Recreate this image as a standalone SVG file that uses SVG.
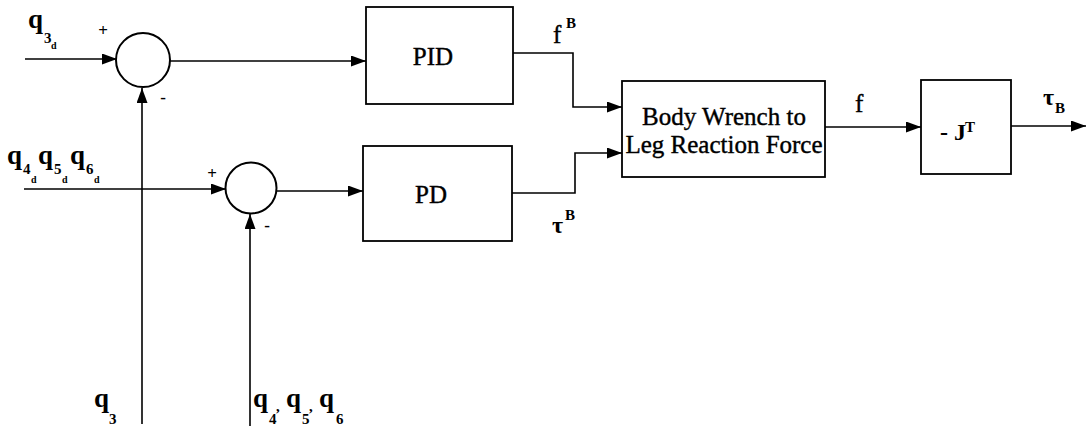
<svg xmlns="http://www.w3.org/2000/svg" width="1087" height="426" viewBox="0 0 1087 426">
<defs>
<marker id="arr" markerUnits="userSpaceOnUse" markerWidth="16" markerHeight="12" refX="15" refY="5.5" orient="auto">
<path d="M0,0 L15,5.5 L0,11 Z" fill="#000"/>
</marker>
<style>
.ln{fill:none;stroke:#000;stroke-width:1.6}
.box{fill:#fff;stroke:#000;stroke-width:1.8}
.sum{fill:#fff;stroke:#000;stroke-width:2}
.t{font-family:"Liberation Serif","Times New Roman",serif;font-size:25px;fill:#000;stroke:#000;stroke-width:0.4}
.b{font-family:"Liberation Serif","Times New Roman",serif;font-weight:bold;fill:#000}
.q{font-size:27px}
.s{font-size:15px}
.d{font-size:10px}
.sg{font-size:17px}
</style>
</defs>
<rect width="1087" height="426" fill="#fff"/>
<g id="connectors">
<path class="ln" d="M25 59 H117" marker-end="url(#arr)"/>
<path class="ln" d="M170 61 H366" marker-end="url(#arr)"/>
<path class="ln" d="M142 424 V88" marker-end="url(#arr)"/>
<path class="ln" d="M24 189 H226" marker-end="url(#arr)"/>
<path class="ln" d="M277 191 H363" marker-end="url(#arr)"/>
<path class="ln" d="M250 426 V214" marker-end="url(#arr)"/>
<path class="ln" d="M513 53 H573 V107 H622" marker-end="url(#arr)"/>
<path class="ln" d="M512 193 H575 V153 H622" marker-end="url(#arr)"/>
<path class="ln" d="M825 127 H921" marker-end="url(#arr)"/>
<path class="ln" d="M1011 126 H1086" marker-end="url(#arr)"/>
</g>
<g id="sum1">
<circle class="sum" cx="143" cy="60" r="27"/>
<text class="b sg" x="103" y="36" text-anchor="middle">+</text>
<text class="b sg" x="163" y="103" text-anchor="middle">-</text>
</g>
<g id="sum2">
<circle class="sum" cx="251" cy="188" r="25.5"/>
<text class="b sg" x="212" y="179" text-anchor="middle">+</text>
<text class="b sg" x="267" y="231" text-anchor="middle">-</text>
</g>
<g id="pid">
<rect class="box" x="366" y="7" width="147" height="97"/>
<text class="t" x="433" y="65" text-anchor="middle">PID</text>
</g>
<g id="pd">
<rect class="box" x="363" y="146" width="149" height="95"/>
<text class="t" x="431" y="203" text-anchor="middle">PD</text>
</g>
<g id="body">
<rect class="box" x="622" y="81" width="203" height="96"/>
<text class="t" x="724" y="125" text-anchor="middle">Body Wrench to</text>
<text class="t" x="724" y="153" text-anchor="middle">Leg Reaction Force</text>
</g>
<g id="jt">
<rect class="box" x="921" y="80" width="90" height="94"/>
<text class="b" x="940" y="140" font-size="24">- J</text>
<text class="b s" x="965" y="132">T</text>
</g>
<g id="labels">
<text class="b q" x="28" y="28">q</text>
<text class="b s" x="44" y="43">3</text>
<text class="b d" x="51" y="49">d</text>
<text class="b q" x="7" y="164">q</text>
<text class="b s" x="23" y="174">4</text>
<text class="b d" x="31" y="183">d</text>
<text class="b q" x="38" y="164">q</text>
<text class="b s" x="54" y="174">5</text>
<text class="b d" x="62" y="183">d</text>
<text class="b q" x="70" y="164">q</text>
<text class="b s" x="86" y="174">6</text>
<text class="b d" x="94" y="183">d</text>
<text class="b q" x="94" y="407">q</text>
<text class="b s" x="109" y="424">3</text>
<text class="b q" x="253" y="407">q</text>
<text class="b s" x="269" y="424">4</text>
<text class="b s" x="276" y="411">,</text>
<text class="b q" x="286" y="407">q</text>
<text class="b s" x="302" y="424">5</text>
<text class="b s" x="309" y="411">,</text>
<text class="b q" x="319" y="407">q</text>
<text class="b s" x="336" y="424">6</text>
<text class="t" x="553" y="43">f</text>
<text class="b s" x="566" y="28">B</text>
<text class="b" x="552" y="233" font-size="24">τ</text>
<text class="b s" x="565" y="220">B</text>
<text class="t" x="855" y="112">f</text>
<text class="b" x="1043" y="105" font-size="24">τ</text>
<text class="b s" x="1055" y="113">B</text>
</g>
</svg>
